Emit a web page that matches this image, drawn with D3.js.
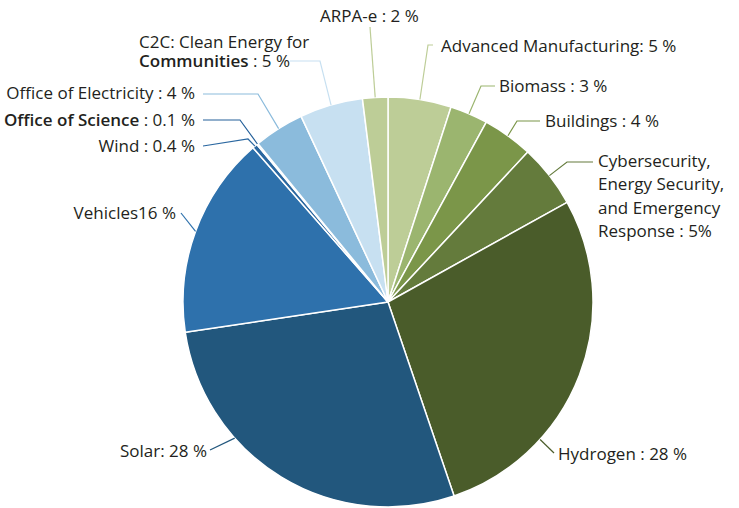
<!DOCTYPE html>
<html>
<head>
<meta charset="utf-8">
<script src="https://cdn.jsdelivr.net/npm/d3@7"></script>
<style>
  body { margin: 0; background: #fff; }
  text { font-family: "Open Sans", "Noto Sans", sans-serif; fill: #231f20; }
</style>
</head>
<body>
<svg id="chart"></svg>
<script>
// Data (clockwise from 12 o'clock)
const categories = ["Advanced Manufacturing", "Biomass", "Buildings", "Cybersecurity", "Hydrogen",
  "Solar", "Vehicles", "Wind", "Office of Science", "Office of Electricity", "C2C", "ARPA-e"];
const values = [5, 3, 4, 5, 28, 28, 16, 0.4, 0.1, 4, 5, 2];
// label rows; each row is a list of [text, bold] segments
const labelRows = [
  [[["Advanced Manufacturing: 5 %"]]],
  [[["Biomass : 3 %"]]],
  [[["Buildings : 4 %"]]],
  [[["Cybersecurity,"]], [["Energy Security,"]], [["and Emergency"]], [["Response : 5%"]]],
  [[["Hydrogen : 28 %"]]],
  [[["Solar: 28 %"]]],
  [[["Vehicles16 %"]]],
  [[["Wind : 0.4 %"]]],
  [[["Office of Science", true], [" : 0.1 %"]]],
  [[["Office of Electricity : 4 %"]]],
  [[["C2C: Clean Energy for"]], [["Communities", true], [" : 5 %"]]],
  [[["ARPA-e : 2 %"]]]
];
const colors = ["#bdcd97", "#9bb56f", "#7b9649", "#647b3c", "#4a5c2a",
  "#22577d", "#2e71ac", "#2a67a0", "#24609a", "#8bbbdc", "#c7e0f1", "#bdcd97"];

// Label layout: text position, anchor, leader start and elbow, position along slice
const layout = [
  { x: 441, y: 46, anchor: "start", start: [433, 45], elbow: [428, 45] },
  { x: 499, y: 86, anchor: "start", start: [495, 86], elbow: [481, 86] },
  { x: 545, y: 121, anchor: "start", start: [540, 121], elbow: [517, 121] },
  { x: 598, y: 161, anchor: "start", start: [593, 162], elbow: [567, 162], lh: 23.3 },
  { x: 558, y: 454, anchor: "start", start: [554, 453], elbow: [554, 453], at: 0.71 },
  { x: 207, y: 451, anchor: "end", start: [210, 450], elbow: [210, 450], at: 0.67 },
  { x: 176, y: 213, anchor: "end", start: [181, 213], elbow: [181, 213] },
  { x: 195, y: 146, anchor: "end", start: [203, 146], elbow: [248, 139] },
  { x: 195, y: 120, anchor: "end", start: [203, 120], elbow: [240, 120] },
  { x: 195, y: 93, anchor: "end", start: [203, 94], elbow: [258, 94] },
  { x: 139, y: 42, anchor: "start", start: [290, 61], elbow: [320, 61], lh: 19 },
  { x: 320, y: 16, anchor: "start", start: [370, 27], elbow: [370, 27] }
];

const width = 739, height = 508;
const cx = 388, cy = 302, radius = 205;
const fontSize = 17;

const svg = d3.select("#chart").attr("width", width).attr("height", height);

const pie = d3.pie().sort(null).value(d => d)(values);
const arc = d3.arc().innerRadius(0).outerRadius(radius);

const g = svg.append("g").attr("transform", `translate(${cx},${cy})`);

g.selectAll("path")
  .data(pie)
  .join("path")
  .attr("d", arc)
  .attr("fill", (d, i) => colors[i])
  .attr("stroke", "#fff")
  .attr("stroke-width", 1.5)
  .attr("stroke-linejoin", "round");

// Leader lines
const leaders = svg.append("g");
pie.forEach((d, i) => {
  const L = layout[i];
  const t = L.at === undefined ? 0.5 : L.at;
  const a = d.startAngle + (d.endAngle - d.startAngle) * t;
  const p = [cx + radius * Math.sin(a), cy - radius * Math.cos(a)];
  leaders.append("polyline")
    .attr("points", [L.start, L.elbow, p].map(q => q.join(",")).join(" "))
    .attr("fill", "none")
    .attr("stroke", colors[i])
    .attr("stroke-width", 1.2);
});

// Labels (one text per label, rows as tspans)
const labels = svg.append("g").style("font-size", fontSize + "px");
layout.forEach((L, i) => {
  const txt = labels.append("text")
    .attr("x", L.x)
    .attr("y", L.y)
    .attr("dy", "0.35em")
    .attr("text-anchor", L.anchor);
  labelRows[i].forEach((row, k) => {
    row.forEach((seg, s) => {
      const ts = txt.append("tspan")
        .text(seg[0])
        .style("font-weight", seg[1] ? 600 : 400);
      if (s === 0 && k > 0) ts.attr("x", L.x).attr("dy", L.lh);
    });
  });
});
</script>
</body>
</html>
